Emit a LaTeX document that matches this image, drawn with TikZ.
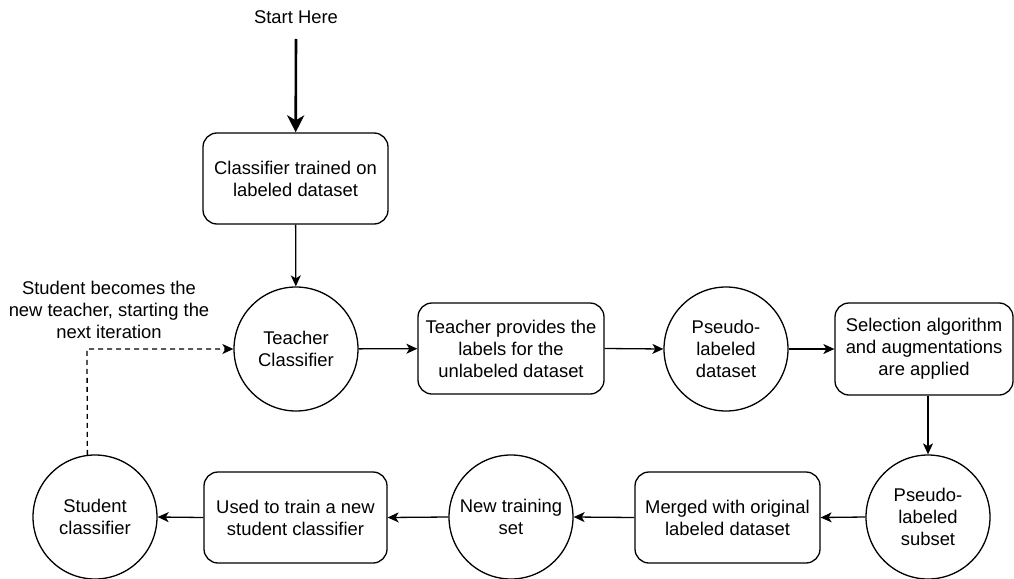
\documentclass[tikz,border=0pt]{standalone}
\usepackage{fontspec}
\setmainfont{Liberation Sans}
\usetikzlibrary{arrows.meta}
\tikzset{
  every node/.style={font=\fontsize{18.4}{22}\selectfont, align=center},
  rbox/.style={draw, rounded corners=14pt, line width=1.3pt, inner sep=0pt},
  circ/.style={draw, circle, line width=1.3pt, minimum size=124pt, inner sep=0pt},
  conn/.style={line width=1.3pt, -{Stealth[length=11pt,width=10pt,inset=3pt]}},
  thickconn/.style={line width=2.6pt, -{Stealth[length=17pt,width=17pt,inset=5pt]}},
  dashconn/.style={line width=1.3pt, dash pattern=on 5pt off 4pt, -{Stealth[length=11pt,width=10pt,inset=3pt]}},
}
\begin{document}
\begin{tikzpicture}[x=1pt,y=-1pt]
\useasboundingbox (0,0) rectangle (1014,578);
\node (start) at (296,17) {Start Here};
\coordinate (s0) at (296,39);
\node[rbox, minimum width=185pt, minimum height=91pt] (cls) at (295.5,178.5) {Classifier trained on\\labeled dataset};
\node[circ] (teacher) at (296,349) {Teacher\\Classifier};
\node[rbox, minimum width=186pt, minimum height=91pt] (tbox) at (511,348.5) {Teacher provides the\\labels for the\\unlabeled dataset};
\node[circ] (pseudo) at (726,349) {Pseudo-\\labeled\\dataset};
\node[rbox, minimum width=178pt, minimum height=92pt] (sel) at (924,349) {Selection algorithm\\and augmentations\\are applied};
\node[circ] (subset) at (928,517) {Pseudo-\\labeled\\subset};
\node[rbox, minimum width=185pt, minimum height=91pt] (merged) at (727.5,517.5) {Merged with original\\labeled dataset};
\node[circ] (newset) at (511,517) {New training\\set};
\node[rbox, minimum width=183pt, minimum height=91pt] (used) at (295.5,517.5) {Used to train a new\\student classifier};
\node[circ] (student) at (95,517) {Student\\classifier};
\node (note) at (109,310) {Student becomes the\\new teacher, starting the\\next iteration};
\coordinate (corner) at (87,349);

\draw[thickconn] (s0) -- (cls);
\draw[conn] (cls) -- (teacher);
\draw[conn] (teacher) -- (tbox);
\draw[conn] (tbox.east) -- (pseudo.west);
\draw[conn] (pseudo.east) -- (sel.west);
\draw[conn] (sel.south -| subset.north) -- (subset.north);
\draw[conn] (subset.west) -- (merged.east);
\draw[conn] (merged.west) -- (newset.east);
\draw[conn] (newset.west) -- (used.east);
\draw[conn] (used.west) -- (student.east);
\draw[dashconn] (student.97.5) -- (corner) -- (teacher.west);
\end{tikzpicture}
\end{document}
